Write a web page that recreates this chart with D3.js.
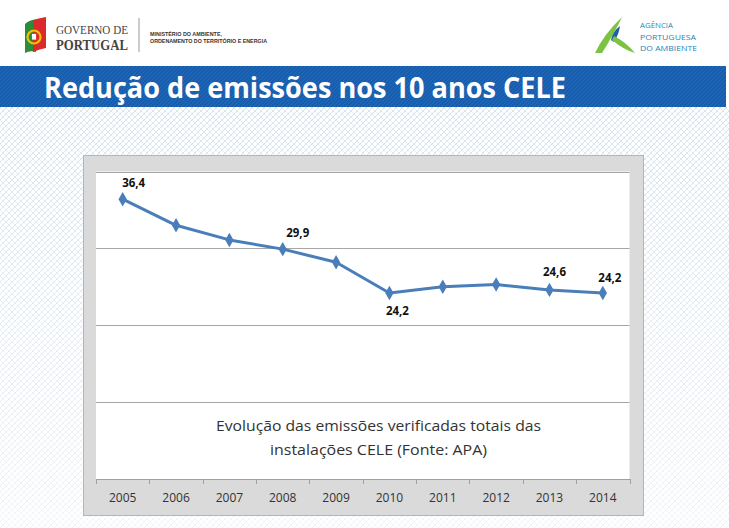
<!DOCTYPE html>
<html><head><meta charset="utf-8">
<script src="https://cdn.jsdelivr.net/npm/d3@7/dist/d3.min.js"></script>
<style>html,body{margin:0;padding:0;background:#fff;}svg{display:block;}</style>
</head><body>
<svg id="c" width="729" height="528"></svg>
<script>
// ---- data ----
const years = ["2005","2006","2007","2008","2009","2010","2011","2012","2013","2014"];
const emissions = [36.4, 33.0, 31.1, 29.9, 28.2, 24.2, 25.0, 25.3, 24.6, 24.2];
const labelledYears = ["2005","2008","2010","2013","2014"];
const gridValues = [0, 10, 20, 30, 40];
const titleText = "Redução de emissões nos 10 anos CELE";
const captionLines = ["Evolução das emissões verificadas totais das", "instalações CELE (Fonte: APA)"];
const apaLines = ["AGÊNCIA","PORTUGUESA","DO AMBIENTE"];

// ---- layout ----
const W = 729, H = 528;
const svg = d3.select("#c");
const defs = svg.append("defs");

// background hatch pattern
const pat = defs.append("pattern").attr("id","hatch").attr("width",6).attr("height",6)
  .attr("patternUnits","userSpaceOnUse");
pat.append("path").attr("d","M0,6 L6,0 M-1,1 L1,-1 M5,7 L7,5").attr("stroke","#b3cde3").attr("stroke-width",0.7);
pat.append("path").attr("d","M0,0 L6,6 M-1,5 L1,7 M5,-1 L7,1").attr("stroke","#c8dcee").attr("stroke-width",0.6);
const grad = defs.append("linearGradient").attr("id","fade").attr("x1",0).attr("y1",0).attr("x2",0).attr("y2",1);
grad.append("stop").attr("offset","0").attr("stop-color","#fff").attr("stop-opacity",1);
grad.append("stop").attr("offset","1").attr("stop-color","#fff").attr("stop-opacity",0.35);
const mask = defs.append("mask").attr("id","fadeMask");
mask.append("rect").attr("x",0).attr("y",107).attr("width",W).attr("height",H-107).attr("fill","url(#fade)");
svg.append("rect").attr("x",0).attr("y",107).attr("width",W).attr("height",H-107)
  .attr("fill","url(#hatch)").attr("mask","url(#fadeMask)").attr("opacity",0.9);

// title band
const bpat = defs.append("pattern").attr("id","bhatch").attr("width",4).attr("height",4).attr("patternUnits","userSpaceOnUse");
bpat.append("rect").attr("width",4).attr("height",4).attr("fill","#185eae");
bpat.append("path").attr("d","M0,4 L4,0").attr("stroke","#2a6db8").attr("stroke-width",0.8);
svg.append("rect").attr("x",0).attr("y",66).attr("width",726).attr("height",41).attr("fill","url(#bhatch)");
svg.append("text").attr("x",44).attr("y",98).attr("fill","#fff")
  .attr("font-family","Open Sans, sans-serif").attr("font-weight",700).attr("font-size",28)
  .attr("textLength",522).attr("lengthAdjust","spacingAndGlyphs").text(titleText);

// Governo de Portugal logo
const g1 = svg.append("g");
g1.append("path").attr("d","M25,24 Q31,19 37,20 L36,52 Q30,50 25,53 Z").attr("fill","#2e8b3a");
g1.append("path").attr("d","M33,20 Q40,18 46,17 L46,48 Q40,49 33,52 Z").attr("fill","#d92b2b");
g1.append("circle").attr("cx",34).attr("cy",37).attr("r",6.5).attr("fill","none").attr("stroke","#f2c200").attr("stroke-width",2.2);
g1.append("rect").attr("x",31.5).attr("y",33.5).attr("width",5).attr("height",6.5).attr("fill","#fff").attr("stroke","#d92b2b").attr("stroke-width",0.8);
g1.append("text").attr("x",56).attr("y",34).attr("font-family","Liberation Serif, serif").attr("font-size",12)
  .attr("fill","#444").attr("textLength",72).attr("lengthAdjust","spacingAndGlyphs").text("GOVERNO DE");
g1.append("text").attr("x",56).attr("y",50).attr("font-family","Liberation Serif, serif").attr("font-weight",700).attr("font-size",14)
  .attr("fill","#444").attr("textLength",72).attr("lengthAdjust","spacingAndGlyphs").text("PORTUGAL");
g1.append("line").attr("x1",139).attr("x2",139).attr("y1",18).attr("y2",52).attr("stroke","#999").attr("stroke-width",1);
g1.append("text").attr("x",150).attr("y",36).attr("font-family","Liberation Sans, sans-serif").attr("font-weight",700).attr("font-size",5.5)
  .attr("fill","#333").attr("textLength",72).attr("lengthAdjust","spacingAndGlyphs").text("MINISTÉRIO DO AMBIENTE,");
g1.append("text").attr("x",150).attr("y",43).attr("font-family","Liberation Sans, sans-serif").attr("font-weight",700).attr("font-size",5.5)
  .attr("fill","#333").attr("textLength",117).attr("lengthAdjust","spacingAndGlyphs").text("ORDENAMENTO DO TERRITÓRIO E ENERGIA");

// APA logo
const g2 = svg.append("g");
g2.append("path").attr("d","M595,53 Q604,34 622,17 Q614,34 602,53 Z").attr("fill","#7dc242");
g2.append("path").attr("d","M611,40 Q613,31 620,26 Q619,34 614,42 Z").attr("fill","#1f5fa8");
g2.append("path").attr("d","M614,36 Q626,42 635,53 Q624,50 612,40 Z").attr("fill","#7dc242");
const apaWidths = [33, 56, 57];
apaLines.forEach((t,i)=>{
  g2.append("text").attr("x",640).attr("y",28+i*11.5).attr("font-family","Open Sans, sans-serif").attr("font-size",8)
   .attr("fill","#2f7fb6").attr("textLength",apaWidths[i]).attr("lengthAdjust","spacingAndGlyphs").text(t);
});

// chart frame
svg.append("rect").attr("x",83.5).attr("y",155.5).attr("width",560).attr("height",360)
  .attr("fill","#dadada").attr("stroke","#b5b5b5");
const plot = {x0:96, x1:629.5, y0:171.5, y1:479};
svg.append("rect").attr("x",plot.x0).attr("y",plot.y0).attr("width",plot.x1-plot.x0).attr("height",plot.y1-plot.y0)
  .attr("fill","#fff");

const x = d3.scaleBand().domain(years).range([plot.x0, plot.x1]).padding(0);
const y = d3.scaleLinear().domain([0,40]).range([plot.y1, plot.y0]);
const cx = d => x(d) + x.bandwidth()/2;

// gridlines
svg.append("g").selectAll("line").data(gridValues.filter(v=>v>0)).join("line")
  .attr("x1",plot.x0).attr("x2",plot.x1).attr("y1",d=>Math.round(y(d))+0.5).attr("y2",d=>Math.round(y(d))+0.5)
  .attr("stroke","#a6a6a6").attr("stroke-width",1);

// x axis
const xAxis = svg.append("g").attr("transform",`translate(0,${plot.y1})`)
  .call(d3.axisBottom(x).tickSize(0).tickPadding(14));
xAxis.select(".domain").attr("stroke","#a0a0a0");
xAxis.selectAll("text").attr("font-family","Open Sans, sans-serif").attr("font-size",12).attr("fill","#333");
const bounds = years.map(d=>x(d)).concat([plot.x1]);
xAxis.selectAll("line.bt").data(bounds).join("line").attr("class","bt")
  .attr("x1",d=>Math.round(d)+0.5).attr("x2",d=>Math.round(d)+0.5).attr("y1",0).attr("y2",5)
  .attr("stroke","#a0a0a0");

// line
const pts = years.map((yr,i)=>({yr, v:emissions[i]}));
svg.append("path").datum(pts)
  .attr("d", d3.line().x(d=>cx(d.yr)).y(d=>y(d.v)))
  .attr("fill","none").attr("stroke","#4a7ebb").attr("stroke-width",3).attr("stroke-linejoin","round");
svg.append("g").selectAll("path").data(pts).join("path")
  .attr("d", d3.symbol().type(d3.symbolDiamond).size(60))
  .attr("transform", d=>`translate(${cx(d.yr)},${y(d.v)})`)
  .attr("fill","#4a7ebb");

// data labels
const labelOffset = {"2005":[11,-12],"2008":[15,-12],"2010":[8,22],"2013":[5,-14],"2014":[7,-11]};
const fmt = v => d3.format(".1f")(v).replace(".",",");
svg.append("g").selectAll("text").data(pts.filter(d=>labelledYears.includes(d.yr))).join("text")
  .attr("x", d=>cx(d.yr)+labelOffset[d.yr][0])
  .attr("y", d=>y(d.v)+labelOffset[d.yr][1])
  .attr("text-anchor","middle").attr("font-family","Open Sans, sans-serif").attr("font-weight",700)
  .attr("font-size",11.5).attr("fill","#111").text(d=>fmt(d.v));

// caption
svg.append("g").selectAll("text").data(captionLines).join("text")
  .attr("x",378.5).attr("y",(d,i)=>431+i*24).attr("text-anchor","middle")
  .attr("font-family","Open Sans, sans-serif").attr("font-size",14.5).attr("fill","#333")
  .attr("textLength",(d,i)=>i===0?325:217).attr("lengthAdjust","spacingAndGlyphs")
  .text(d=>d);
</script>
</body></html>
